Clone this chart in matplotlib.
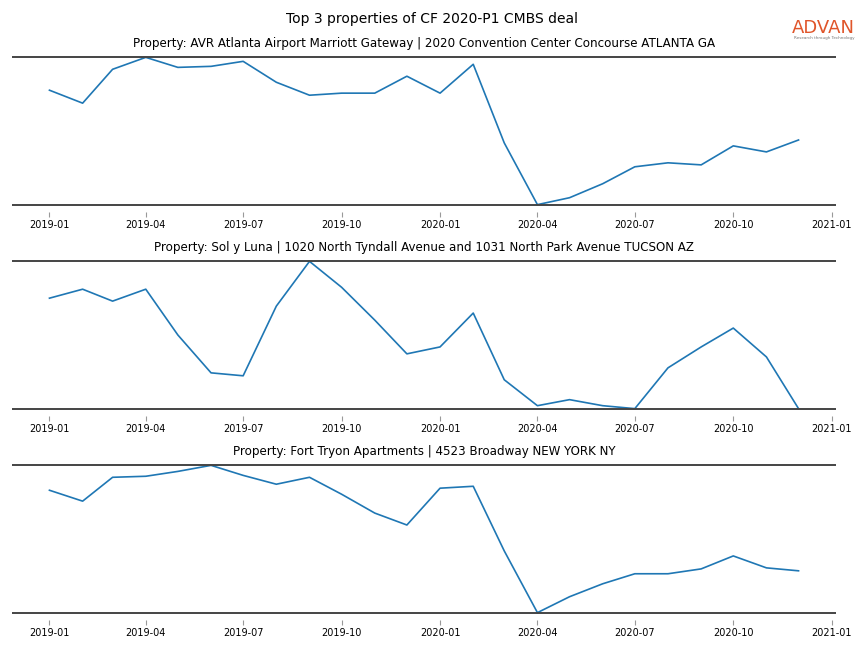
import matplotlib
matplotlib.use("Agg")
import matplotlib.pyplot as plt
import matplotlib.dates as mdates
import pandas as pd

months = pd.date_range("2019-01-01", "2020-12-01", freq="MS")

titles = [
    "Property: AVR Atlanta Airport Marriott Gateway | 2020 Convention Center Concourse ATLANTA GA",
    "Property: Sol y Luna | 1020 North Tyndall Avenue and 1031 North Park Avenue TUCSON AZ",
    "Property: Fort Tryon Apartments | 4523 Broadway NEW YORK NY",
]

# relative foot traffic (no y scale shown)
atlanta = [77.7, 68.9, 91.9, 100.0, 93.2, 93.9, 97.3, 83.1, 74.3, 75.7, 75.7, 87.2,
           75.7, 95.3, 41.9, 0.0, 4.7, 14.2, 25.7, 28.4, 27.0, 39.9, 35.8, 43.9]
tucson = [75.0, 81.1, 73.0, 81.1, 50.0, 24.3, 22.3, 69.6, 100.0, 82.4, 60.1, 37.2,
          41.9, 64.9, 19.6, 2.0, 6.1, 2.0, 0.0, 27.7, 41.9, 54.7, 35.1, 0.0]
new_york = [83.1, 75.7, 91.9, 92.6, 95.9, 100.0, 93.2, 87.2, 91.9, 80.4, 67.6, 59.5,
            84.5, 85.8, 41.9, 0.0, 10.8, 19.6, 26.4, 26.4, 29.7, 38.5, 30.4, 28.4]
series = [atlanta, tucson, new_york]

fig = plt.figure(figsize=(8.64, 6.48), dpi=100)
fig.suptitle("Top 3 properties of CF 2020-P1 CMBS deal", fontsize=10, y=0.982)

left, width, height = 12 / 864, 824 / 864, 162 / 648
bottoms = [1 - 212 / 648, 1 - 416 / 648, 1 - 620 / 648]

for title, vals, b in zip(titles, series, bottoms):
    ax = fig.add_axes([left, b, width, height])
    ax.plot(months, vals, color="C0", lw=1.2)
    # min / max reference lines instead of spines
    ax.axhline(min(vals), color="#444444", lw=1.4)
    ax.axhline(max(vals), color="#444444", lw=1.4)
    ax.set_title(title, fontsize=8.6, pad=2)
    for side in ax.spines:
        ax.spines[side].set_visible(False)
    ax.set_yticks([])
    ax.xaxis.set_major_locator(mdates.MonthLocator(bymonth=[1, 4, 7, 10]))
    ax.xaxis.set_major_formatter(mdates.DateFormatter("%Y-%m"))
    ax.tick_params(axis="x", labelsize=7, length=3.5, color="#999999", pad=2)

# logo
fig.text(0.9535, 0.957, "ADVAN", color="#e0552a", fontsize=13, ha="center",
         va="center")
fig.text(0.9535, 0.941, "Research through Technology", color="#777777", fontsize=3,
         ha="center", va="center")

fig.savefig("out.png", dpi=100)
